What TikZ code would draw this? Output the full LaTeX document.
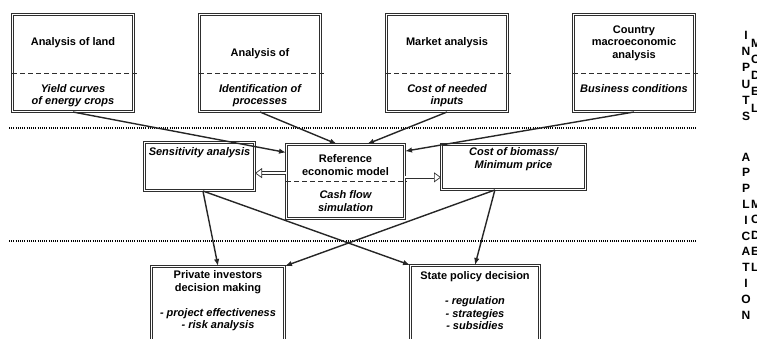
\documentclass[tikz,border=0pt]{standalone}
\usepackage{fontspec}
\setmainfont{Liberation Sans}
\usepackage{tikz}
\usetikzlibrary{arrows.meta,positioning,calc}
\definecolor{lineGray}{HTML}{2E2E2E}
\tikzset{
  box/.style={rectangle, draw=lineGray, double=white, double distance=1.1pt, line width=1pt, inner sep=0pt},
  inbox/.style={box, minimum width=121pt, minimum height=97pt},
  title/.style={align=center, inner sep=0pt, font=\fontsize{11}{12.5}\selectfont\bfseries},
  note/.style={title, font=\fontsize{11}{12.5}\selectfont\bfseries\itshape},
  divider/.style={draw=lineGray, line width=1pt, dash pattern=on 5pt off 3pt},
  layer/.style={line width=1.2pt, dash pattern=on 1pt off 1.2pt},
  arrow/.style={-{Latex[length=7pt,width=5.5pt]}, line width=1.4pt, draw=black!85},
  hollow/.style={draw=lineGray, double=white, double distance=2.2pt, line width=0.7pt, -{Triangle[open,length=7pt,width=10pt]}},
  sidetext/.style={align=center, inner sep=0pt, font=\fontsize{12}{16.3}\selectfont\bfseries}
}

\begin{document}
\begin{tikzpicture}[x=1pt, y=-1pt, node distance=65pt]
\clip (0,0) rectangle (757,338);
% input row
\node[inbox] (land) at (73,63) {};
\node[inbox, right=of land] (tech) {};
\node[inbox, right=of tech] (market) {};
\node[inbox, right=of market] (country) {};
\node[title] (landtop) at ($(land.north)+(0,29)$) {Analysis of land};
\node[title] (techtop) at ($(tech.north)+(0,40)$) {Analysis of};
\node[title] (markettop) at ($(market.north)+(0,29)$) {Market analysis};
\node[title] (countrytop) at ($(country.north)+(0,29)$) {Country\\macroeconomic\\analysis};
\node[note, anchor=north] (landlow) at ($(land.north)+(0,70)$) {Yield curves\\of energy crops};
\node[note, anchor=north] (techlow) at ($(tech.north)+(0,70)$) {Identification of\\processes};
\node[note, anchor=north] (marketlow) at ($(market.north)+(0,70)$) {Cost of needed\\inputs};
\node[note, anchor=north] (countrylow) at ($(country.north)+(0,70)$) {Business conditions};
\draw[divider] ($(land.west)+(0,10)$) -- ($(land.east)+(3,10)$);
\draw[divider] ($(tech.west)+(0,10)$) -- ($(tech.east)+(3,10)$);
\draw[divider] ($(market.west)+(0,10)$) -- ($(market.east)+(3,10)$);
\draw[divider] ($(country.west)+(0,10)$) -- ($(country.east)+(3,10)$);

% model row
\node[box, minimum width=110pt, minimum height=48pt] (sens) at (199.5,166.5) {};
\node[note] (senstext) at ($(sens.north)+(0,11)$) {Sensitivity analysis};
\node[box, minimum width=118pt, minimum height=74pt] (ref) at (345.5,181.5) {};
\node[title] (reftop) at ($(ref.north)+(0,21)$) {Reference\\economic model};
\node[note] (reflow) at ($(ref.north)+(0,57)$) {Cash flow\\simulation};
\draw[divider] (ref.west) -- ($(ref.east)+(2,0)$);
\node[box, minimum width=144pt, minimum height=45pt] (cost) at (513.5,167) {};
\node[note] (costtext) at ($(cost.north)+(0,15)$) {Cost of biomass/\\Minimum price};

% decision row
\node[box, minimum width=133pt, minimum height=80pt] (priv) at (218,306.5) {};
\node[title] (privtext) at ($(priv.north)+(0,35)$) {Private investors\\decision making\\[12.5pt]\textit{- project effectiveness}\\\textit{- risk analysis}};
\node[box, minimum width=129pt, minimum height=80pt] (state) at (475,305.5) {};
\node[title] (statetext) at ($(state.north)+(0,36)$) {State policy decision\\[12.5pt]\textit{- regulation}\\\textit{- strategies}\\\textit{- subsidies}};

% separators
\draw[layer] (9,128) -- (697,128);
\draw[layer] (9,241) -- (697,241);

\draw[arrow] (land.south) -- (ref.154);
\draw[arrow] (tech.south) -- (ref.103);
\draw[arrow] (market.south) -- (ref.60);
\draw[arrow] (country.south) -- (ref.27);
\draw[arrow] (sens.278) -- (priv.north);
\draw[arrow] (sens.278) -- (state.north west);
\draw[arrow] (cost.231) -- (state.north);
\draw[arrow] (cost.231) -- (priv.north east);
\draw[hollow] (ref.172) -- (ref.172 -| sens.east);
\draw[hollow] (ref.4) -- (ref.4 -| cost.west);

% side labels
\node[sidetext] (inputs) at (746,76) {I\\N\\P\\U\\T\\S};
\node[sidetext, align=left, anchor=west] (modeltop) at (751,75.5) {M\\O\\D\\E\\L};
\node[sidetext, font=\fontsize{12}{15.8}\selectfont\bfseries] (appl) at (746,236) {A\\P\\P\\L\\I\\C\\A\\T\\I\\O\\N};
\node[sidetext, font=\fontsize{12}{15.8}\selectfont\bfseries, align=left, anchor=west] (modellow) at (751,235.5) {M\\O\\D\\E\\L};
\end{tikzpicture}
\end{document}
